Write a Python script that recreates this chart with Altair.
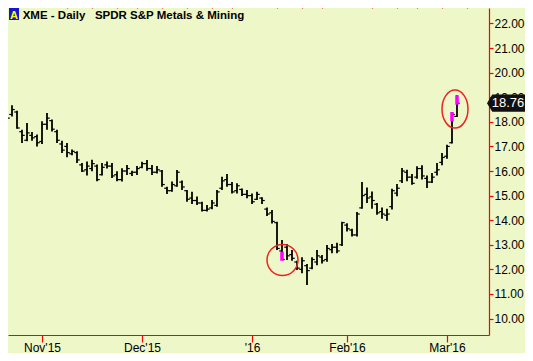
import altair as alt
import pandas as pd

# ---- data (trading-day index 0 = 21 Oct 2015) ----
highs = [18.29, 18.32, 18.67, 18.45, 17.68, 17.95, 17.59, 17.48, 18.02, 18.36,
         18.09, 17.68, 17.23, 17.14, 16.87, 16.80, 16.33, 16.39, 16.46, 16.26,
         16.33, 16.39, 16.33, 15.99, 16.11, 16.24, 16.01, 16.20, 16.38, 16.45,
         16.24, 16.20, 16.04, 15.36, 15.57, 16.04, 15.61, 15.23, 15.16, 14.96,
         14.75, 14.62, 14.82, 15.23, 15.77, 15.88, 15.55, 15.50, 15.29, 15.23,
         15.09, 15.16, 14.93, 14.52, 14.41, 13.94, 13.19, 13.03, 12.79, 12.35,
         12.49, 12.22, 12.49, 12.79, 12.58, 12.99, 13.03, 13.08, 13.94, 13.88,
         13.65, 14.33, 15.55, 15.33, 15.17, 14.70, 14.52, 14.47, 15.28, 15.47,
         16.12, 16.05, 15.88, 16.19, 16.23, 15.82, 15.92, 16.33, 16.73, 17.07,
         18.40, 19.08]
lows = [17.75, 17.91, 18.22, 17.72, 17.14, 17.21, 17.23, 17.00, 17.10, 17.68,
        17.61, 17.14, 16.73, 16.56, 16.64, 16.33, 15.96, 15.82, 15.99, 15.58,
        15.82, 16.10, 15.72, 15.58, 15.57, 15.84, 15.80, 15.84, 16.11, 16.01,
        15.84, 15.90, 15.36, 15.06, 15.16, 15.36, 15.23, 14.75, 14.66, 14.62,
        14.35, 14.35, 14.44, 14.55, 15.23, 15.36, 15.09, 15.09, 14.98, 14.89,
        14.66, 14.82, 14.66, 14.17, 13.87, 12.79, 12.38, 12.38, 12.35, 11.97,
        11.84, 11.36, 12.00, 12.17, 12.24, 12.31, 12.65, 12.65, 12.95, 13.54,
        13.34, 13.34, 14.47, 14.70, 14.47, 14.22, 14.06, 13.98, 14.43, 14.97,
        15.51, 15.58, 15.44, 15.69, 15.65, 15.31, 15.51, 15.82, 16.23, 16.50,
        17.12, 18.20]
opens = [17.80, 18.05, 18.30, 18.40, 17.60, 17.25, 17.45, 17.40, 17.20, 17.90,
         18.05, 17.60, 17.10, 17.00, 16.70, 16.75, 16.25, 16.05, 16.10, 16.20,
         15.85, 16.25, 16.20, 15.85, 15.65, 16.00, 15.90, 15.95, 16.15, 16.30,
         16.10, 15.95, 16.00, 15.30, 15.20, 15.40, 15.55, 15.20, 14.90, 14.80,
         14.70, 14.40, 14.50, 14.60, 15.30, 15.65, 15.45, 15.20, 15.25, 15.05,
         15.00, 14.85, 14.90, 14.45, 14.30, 13.90, 12.75, 12.90, 12.60, 12.30,
         12.00, 12.15, 12.05, 12.30, 12.50, 12.40, 12.80, 12.90, 13.00, 13.80,
         13.60, 13.40, 14.50, 15.05, 14.95, 14.65, 14.35, 14.20, 14.55, 15.10,
         15.60, 15.95, 15.75, 15.75, 16.10, 15.70, 15.55, 15.95, 16.35, 16.60,
         17.15, 18.22]
closes = [18.10, 18.15, 18.50, 17.75, 17.45, 17.55, 17.35, 17.15, 17.90, 18.15,
          17.70, 17.25, 16.85, 16.75, 16.80, 16.45, 16.00, 16.20, 16.30, 15.65,
          16.15, 16.20, 15.80, 15.65, 16.00, 16.10, 15.95, 16.10, 16.30, 16.10,
          15.95, 16.05, 15.45, 15.20, 15.45, 15.95, 15.35, 14.85, 14.80, 14.70,
          14.40, 14.45, 14.70, 15.15, 15.60, 15.45, 15.15, 15.40, 15.05, 15.00,
          14.75, 15.05, 14.80, 14.25, 13.95, 12.85, 12.40, 12.55, 12.45, 12.05,
          12.35, 11.95, 12.40, 12.55, 12.35, 12.85, 12.90, 12.75, 13.90, 13.65,
          13.40, 14.25, 15.00, 14.90, 14.80, 14.30, 14.25, 14.25, 15.20, 15.30,
          16.00, 15.75, 15.50, 16.10, 15.80, 15.55, 15.75, 16.05, 16.55, 17.00,
          18.30, 18.76]

# highlighted (magenta) bar segments
hl_index = [56, 90, 91]
hl_low = [12.35, 18.02, 18.70]
hl_high = [12.72, 18.40, 19.08]

# red annotation marks
circle_index = [56.1]
circle_price = [12.38]
ellipse_index = [90.6]
ellipse_price = [18.52]

last_price = [18.76]
last_label = ["18.76"]

month_ticks = [8, 28, 50, 69, 89]
month_labels = ["Nov'15", "Dec'15", "'16", "Feb'16", "Mar'16"]
week_ticks = [3, 13, 18, 23, 27, 32, 37, 42, 46, 55, 60, 64, 74, 79, 83, 88, 93]
price_ticks = [10, 11, 12, 13, 14, 15, 16, 17, 18, 19, 20, 21, 22]

title_text = "XME - Daily\u00a0\u00a0\u00a0SPDR S&P Metals & Mining"

# ---- frames ----
idx = list(range(len(highs)))
bars = pd.DataFrame({"i": idx, "h": highs, "l": lows, "o": opens, "c": closes})
bars["il"] = bars["i"] - 0.55
bars["ir"] = bars["i"] + 0.55
hl = pd.DataFrame({"i": hl_index, "lo": hl_low, "hi": hl_high})
circ = pd.DataFrame({"i": circle_index, "p": circle_price})
ell = pd.DataFrame({"i": ellipse_index, "p": ellipse_price})
lastdf = pd.DataFrame({"p": last_price, "t": last_label})

RED = "#FF0000"
BG = "#EEF7C7"
FONT = "Liberation Sans"

xs = alt.Scale(domain=[1.2, 97.4], nice=False, zero=False)
ys = alt.Scale(domain=[9.33, 22.63], nice=False, zero=False)

label_expr = " : ".join(
    f'datum.value == {v} ? "{lab}"' for v, lab in zip(month_ticks, month_labels)
) + ' : ""'

major_axis = alt.Axis(values=month_ticks, labelExpr=label_expr, tickSize=7,
                      tickColor=RED, domainColor=RED, domainWidth=1.2, tickWidth=1.2,
                      labelColor="black", labelFont=FONT, labelFontSize=12,
                      labelPadding=0, title=None, grid=False, labelFlush=False,
                      labelOverlap=False)
minor_axis = alt.Axis(values=week_ticks, labels=False, tickSize=4, tickColor=RED,
                      tickWidth=1.2, domain=False, title=None, grid=False)
y_axis = alt.Axis(orient="right", values=price_ticks, format=".2f", tickSize=4,
                  tickColor=RED, domainColor=RED, domainWidth=1.2, tickWidth=1.2,
                  labelColor="black", labelFont=FONT, labelFontSize=12,
                  labelPadding=1, title=None, grid=False)

base = alt.Chart(bars)

hl_bars = base.mark_rule(color="black", strokeWidth=1.8).encode(
    x=alt.X("i:Q", scale=xs, axis=major_axis),
    y=alt.Y("l:Q", scale=ys, axis=y_axis),
    y2="h:Q",
)
open_ticks = base.mark_rule(color="black", strokeWidth=1.2).encode(
    x=alt.X("il:Q", scale=xs, axis=minor_axis),
    x2="i:Q",
    y=alt.Y("o:Q", scale=ys, axis=y_axis),
)
close_ticks = base.mark_rule(color="black", strokeWidth=1.2).encode(
    x=alt.X("i:Q", scale=xs, axis=None),
    x2="ir:Q",
    y=alt.Y("c:Q", scale=ys, axis=y_axis),
)
magenta = alt.Chart(hl).mark_rule(color="#FF00FF", strokeWidth=3.5).encode(
    x=alt.X("i:Q", scale=xs, axis=None),
    y=alt.Y("lo:Q", scale=ys, axis=y_axis),
    y2="hi:Q",
)
circles = alt.Chart(circ).mark_point(shape="circle", size=961, filled=False,
                                     color="#EE2222", strokeWidth=1.5, opacity=1).encode(
    x=alt.X("i:Q", scale=xs, axis=None),
    y=alt.Y("p:Q", scale=ys, axis=y_axis),
)
ellipse_path = "M-0.684,0 A0.684,1 0 1,0 0.684,0 A0.684,1 0 1,0 -0.684,0 Z"
ellipses = alt.Chart(ell).mark_point(shape=ellipse_path, size=1444, filled=False,
                                     color="#EE2222", strokeWidth=1.5, opacity=1).encode(
    x=alt.X("i:Q", scale=xs, axis=None),
    y=alt.Y("p:Q", scale=ys, axis=y_axis),
)
box_path = "M-1,0 L-0.72,-0.45 L1,-0.45 L1,0.45 L-0.72,0.45 Z"
marker = alt.Chart(lastdf).mark_point(shape=box_path, size=1444, filled=True,
                                      color="#111111", opacity=1, strokeWidth=0).encode(
    x=alt.value(498),
    y=alt.Y("p:Q", scale=ys, axis=y_axis),
)
marker_text = alt.Chart(lastdf).mark_text(color="white", font=FONT, fontSize=13,
                                          align="center", baseline="middle", dx=2).encode(
    x=alt.value(498),
    y=alt.Y("p:Q", scale=ys, axis=y_axis),
    text="t:N",
)
a_box = alt.Chart(lastdf).mark_rect(color="#1414D2").encode(
    x=alt.value(1), x2=alt.value(11), y=alt.value(0), y2=alt.value(12)
)
a_text = alt.Chart(lastdf).mark_text(text="A", color="#FFFF00", font=FONT, fontSize=11,
                                     fontWeight="bold", align="center",
                                     baseline="alphabetic").encode(
    x=alt.value(6), y=alt.value(10.5)
)
title = alt.Chart(lastdf).mark_text(text=title_text, color="black", font=FONT,
                                    fontSize=11.5, fontWeight="bold", align="left",
                                    baseline="alphabetic").encode(
    x=alt.value(14.7), y=alt.value(10.5)
)

chart = alt.layer(
    hl_bars, open_ticks, close_ticks, magenta, circles, ellipses,
    marker, marker_text, a_box, a_text, title
).resolve_axis(x="independent").properties(
    width=481, height=327,
    background=BG,
    padding={"left": 0, "top": 0, "right": 36, "bottom": 18},
    autosize=alt.AutoSizeParams(type="none"),
).configure_view(strokeWidth=0, fill=BG)

chart.save("out.html", embed_options={"renderer": "svg", "actions": False})
